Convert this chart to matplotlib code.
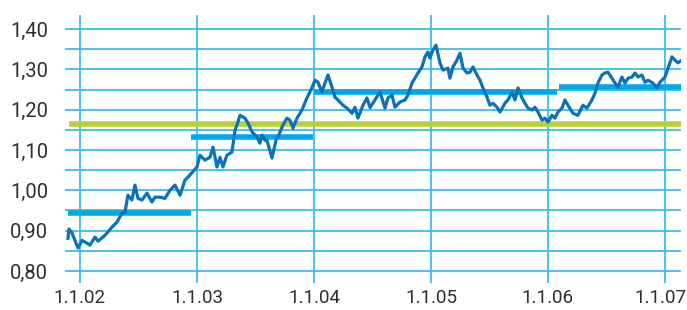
import matplotlib
matplotlib.use("Agg")
import matplotlib.pyplot as plt
import matplotlib.transforms as mtransforms
import numpy as np

# time in decimal years, exchange rate values
t = [2001.897, 2001.906, 2001.932, 2001.983, 2002.017, 2002.060, 2002.085, 2002.128, 2002.154, 2002.197,
     2002.231, 2002.274, 2002.316, 2002.359, 2002.385, 2002.410, 2002.444, 2002.470, 2002.496, 2002.530,
     2002.573, 2002.615, 2002.641, 2002.684, 2002.726, 2002.769, 2002.812, 2002.855, 2002.897, 2002.940,
     2003.000, 2003.026, 2003.068, 2003.111, 2003.137, 2003.171, 2003.197, 2003.222, 2003.256, 2003.299,
     2003.325, 2003.342, 2003.368, 2003.410, 2003.436, 2003.470, 2003.513, 2003.538, 2003.556, 2003.581,
     2003.598, 2003.641, 2003.675, 2003.692, 2003.735, 2003.769, 2003.795, 2003.821, 2003.855, 2003.897,
     2003.940, 2003.966, 2004.009, 2004.034, 2004.068, 2004.094, 2004.120, 2004.154, 2004.179, 2004.205,
     2004.248, 2004.282, 2004.325, 2004.350, 2004.376, 2004.419, 2004.453, 2004.479, 2004.521, 2004.564,
     2004.607, 2004.632, 2004.667, 2004.692, 2004.735, 2004.778, 2004.803, 2004.838, 2004.863, 2004.889,
     2004.923, 2004.949, 2004.974, 2004.991, 2005.017, 2005.043, 2005.077, 2005.103, 2005.145, 2005.162,
     2005.188, 2005.222, 2005.248, 2005.274, 2005.308, 2005.333, 2005.359, 2005.393, 2005.419, 2005.444,
     2005.479, 2005.504, 2005.530, 2005.564, 2005.590, 2005.632, 2005.658, 2005.692, 2005.718, 2005.744,
     2005.778, 2005.803, 2005.829, 2005.863, 2005.889, 2005.915, 2005.949, 2005.974, 2006.000, 2006.034,
     2006.060, 2006.085, 2006.120, 2006.145, 2006.171, 2006.214, 2006.256, 2006.299, 2006.333, 2006.376,
     2006.402, 2006.427, 2006.462, 2006.487, 2006.513, 2006.547, 2006.573, 2006.598, 2006.632, 2006.658,
     2006.684, 2006.718, 2006.744, 2006.769, 2006.803, 2006.829, 2006.855, 2006.897, 2006.932, 2006.957,
     2007.000, 2007.026, 2007.060, 2007.085, 2007.111, 2007.145]
rate = [0.881, 0.904, 0.894, 0.857, 0.876, 0.869, 0.864, 0.884, 0.874, 0.884,
        0.894, 0.909, 0.921, 0.943, 0.946, 0.988, 0.976, 1.013, 0.980, 0.976,
        0.993, 0.971, 0.983, 0.983, 0.980, 1.000, 1.013, 0.988, 1.025, 1.038,
        1.058, 1.087, 1.075, 1.082, 1.107, 1.058, 1.082, 1.058, 1.087, 1.095,
        1.149, 1.162, 1.186, 1.179, 1.167, 1.145, 1.132, 1.117, 1.137, 1.124,
        1.124, 1.080, 1.124, 1.132, 1.162, 1.179, 1.174, 1.154, 1.179, 1.199,
        1.229, 1.244, 1.273, 1.268, 1.244, 1.266, 1.286, 1.256, 1.231, 1.224,
        1.211, 1.204, 1.191, 1.206, 1.179, 1.211, 1.229, 1.205, 1.224, 1.244,
        1.204, 1.229, 1.236, 1.206, 1.219, 1.224, 1.236, 1.266, 1.278, 1.291,
        1.306, 1.331, 1.343, 1.328, 1.348, 1.360, 1.316, 1.298, 1.303, 1.278,
        1.306, 1.323, 1.340, 1.303, 1.291, 1.293, 1.306, 1.286, 1.273, 1.254,
        1.231, 1.211, 1.216, 1.206, 1.194, 1.216, 1.224, 1.244, 1.224, 1.254,
        1.229, 1.216, 1.204, 1.199, 1.206, 1.194, 1.174, 1.179, 1.169, 1.186,
        1.179, 1.194, 1.204, 1.224, 1.211, 1.191, 1.186, 1.211, 1.204, 1.224,
        1.241, 1.266, 1.286, 1.291, 1.293, 1.278, 1.266, 1.256, 1.281, 1.266,
        1.278, 1.281, 1.291, 1.281, 1.286, 1.268, 1.273, 1.266, 1.254, 1.268,
        1.281, 1.303, 1.331, 1.323, 1.316, 1.323]

# period averages (start, end, value)
avg_start = [2001.897, 2002.949, 2004.000, 2006.094]
avg_end = [2002.949, 2003.991, 2006.077, 2007.137]
avg_value = [0.943, 1.132, 1.245, 1.257]

# long-term average
longterm_value = 1.164
longterm_start = 2001.906
longterm_end = 2007.137

xtick_pos = [2002, 2003, 2004, 2005, 2006, 2007]
xtick_labels = ["1.1.02", "1.1.03", "1.1.04", "1.1.05", "1.1.06", "1.1.07"]
ytick_pos = [0.80, 0.90, 1.00, 1.10, 1.20, 1.30, 1.40]
ytick_labels = ["0,80", "0,90", "1,00", "1,10", "1,20", "1,30", "1,40"]

GRID = "#3dbdee"
BAR = "#00a9e6"
LINE = "#0b72b9"
GREEN = "#b8d13a"
TXT = "#2e2e2e"

plt.rcParams['font.family'] = ['Roboto', 'DejaVu Sans']

fig = plt.figure(figsize=(6.87, 3.10), dpi=100)
W, H = 687, 310
x0, x1 = 65, 681
ytop, ybot = 15, 283
ax = fig.add_axes([x0 / W, 1 - ybot / H, (x1 - x0) / W, (ybot - ytop) / H])

ax.set_xlim(2001.872, 2007.137)
ax.set_ylim(0.800 - 12 / 403, 1.40 + 14 / 403)

# horizontal grid at every 0.05 from 0.80 to 1.40
for k in range(13):
    ax.axhline(0.80 + 0.05 * k, color=GRID, lw=1.3, zorder=1)
for xv in xtick_pos:
    ax.axvline(xv, color=GRID, lw=1.3, zorder=1)

ax.hlines(longterm_value, longterm_start, longterm_end, color=GREEN, lw=4.0, zorder=2)
ax.hlines(avg_value, avg_start, avg_end, color=BAR, lw=4.0, zorder=2)
ax.plot(t, rate, color=LINE, lw=2.3, zorder=3, solid_joinstyle='round')

for s in ax.spines.values():
    s.set_visible(False)
ax.set_xticks(xtick_pos)
ax.set_xticklabels(xtick_labels)
ax.set_yticks(ytick_pos)
ax.set_yticklabels(ytick_labels)
ax.tick_params(axis='y', length=0, labelsize=14.5, colors=TXT, pad=12)
ax.tick_params(axis='x', length=0, labelsize=13.5, colors=TXT, pad=4)

# nudge the last x label so it stays inside the figure
last = ax.get_xticklabels()[-1]
last.set_transform(last.get_transform() +
                   mtransforms.ScaledTranslation(-4 / 100, 0, fig.dpi_scale_trans))

fig.savefig("out.png", dpi=100)
